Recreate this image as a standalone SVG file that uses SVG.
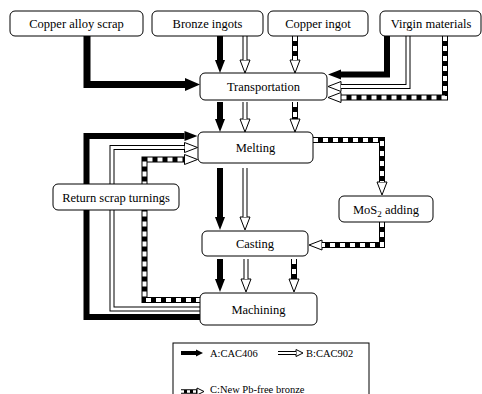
<svg xmlns="http://www.w3.org/2000/svg" width="482" height="394" viewBox="0 0 482 394">
<style>
.box{fill:#fff;stroke:#000;stroke-width:1}
text{font-family:"Liberation Serif","Times New Roman",serif;font-size:12.5px;text-anchor:middle;fill:#000}
.lg text{font-size:10.5px;text-anchor:start}
.a{fill:none;stroke:#000;stroke-width:6}
.bo{fill:none;stroke:#000;stroke-width:5}
.bi{fill:none;stroke:#fff;stroke-width:3}
.co{fill:none;stroke:#000;stroke-width:6}
.ci{fill:none;stroke:#fff;stroke-width:4;stroke-dasharray:5 5}
</style>
<defs>
<marker id="mA" markerUnits="userSpaceOnUse" viewBox="-1 -7 16 14" markerWidth="16" markerHeight="14" refX="0" refY="0" orient="auto"><path d="M0,-5 L13,0 L0,5 Z" fill="#000"/></marker>
<marker id="mAL" markerUnits="userSpaceOnUse" viewBox="-1 -8 18 16" markerWidth="18" markerHeight="16" refX="0" refY="0" orient="auto"><path d="M0,-6.5 L15,0 L0,6.5 Z" fill="#000"/></marker>
<marker id="mW" markerUnits="userSpaceOnUse" viewBox="-1 -7 16 14" markerWidth="16" markerHeight="14" refX="0" refY="0" orient="auto"><path d="M0,-5 L13,0 L0,5 Z" fill="#fff" stroke="#000" stroke-width="1"/></marker>
<marker id="mAs" markerUnits="userSpaceOnUse" viewBox="-1 -5 10 10" markerWidth="10" markerHeight="10" refX="0" refY="0" orient="auto"><path d="M0,-3.5 L7,0 L0,3.5 Z" fill="#000"/></marker>
<marker id="mWs" markerUnits="userSpaceOnUse" viewBox="-1 -5 10 10" markerWidth="10" markerHeight="10" refX="0" refY="0" orient="auto"><path d="M0,-3.5 L7,0 L0,3.5 Z" fill="#fff" stroke="#000" stroke-width="1"/></marker>
</defs>
<rect width="482" height="394" fill="#fff"/>
<g id="connectors">
<!-- A lines -->
<path class="a" style="stroke-width:7" d="M87,36 V84.5 H185" marker-end="url(#mAL)"/>
<path class="a" d="M220,36 V60" marker-end="url(#mA)"/>
<path class="a" d="M220,102 V119" marker-end="url(#mA)"/>
<path class="a" d="M220,168 V217" marker-end="url(#mA)"/>
<path class="a" d="M220,259 V279" marker-end="url(#mA)"/>
<path class="a" d="M387,36 V74.5 H341" marker-end="url(#mA)"/>
<path class="a" d="M201,317 H86.5 V136 H184.5" marker-end="url(#mA)"/>
<!-- B lines -->
<path class="bo" d="M245,36 V60" marker-end="url(#mW)"/><path class="bi" d="M245,36 V60"/>
<path class="bo" d="M245,102 V119" marker-end="url(#mW)"/><path class="bi" d="M245,102 V119"/>
<path class="bo" d="M245,168 V217" marker-end="url(#mW)"/><path class="bi" d="M245,168 V217"/>
<path class="bo" d="M246,259 V279" marker-end="url(#mW)"/><path class="bi" d="M246,259 V279"/>
<path class="bo" d="M408,36 V86.5 H341" marker-end="url(#mW)"/><path class="bi" d="M408,36 V86.5 H341"/>
<path class="bo" d="M201,309 H112 V147.5 H184.5" marker-end="url(#mW)"/><path class="bi" d="M201,309 H112 V147.5 H184.5"/>
<!-- C lines -->
<path class="co" d="M295,36 V60" marker-end="url(#mW)"/><path class="ci" d="M295,36 V60"/>
<path class="co" d="M295,102 V119" marker-end="url(#mW)"/><path class="ci" d="M295,102 V119"/>
<path class="co" d="M313,140 H382 V182" marker-end="url(#mW)"/><path class="ci" d="M313,140 H382 V182"/>
<path class="co" d="M382,222 V245 H322" marker-end="url(#mW)"/><path class="ci" d="M382,222 V245 H322"/>
<path class="co" d="M294,259 V279" marker-end="url(#mW)"/><path class="ci" d="M294,259 V279"/>
<path class="co" d="M445,36 V97.5 H341" marker-end="url(#mW)"/><path class="ci" d="M445,36 V97.5 H341"/>
<path class="co" d="M201,300 H144.5 V159.5 H184.5" marker-end="url(#mW)"/><path class="ci" d="M201,300 H144.5 V159.5 H184.5"/>
</g>
<g id="copper-alloy-scrap"><rect class="box" x="10" y="11" width="133" height="25" rx="5"/><text x="76.5" y="28">Copper alloy scrap</text></g>
<g id="bronze-ingots"><rect class="box" x="152" y="11" width="111" height="25" rx="5"/><text x="207.5" y="28">Bronze ingots</text></g>
<g id="copper-ingot"><rect class="box" x="268" y="11" width="100" height="25" rx="5"/><text x="318" y="28">Copper ingot</text></g>
<g id="virgin-materials"><rect class="box" x="380" y="11" width="101" height="25" rx="5"/><text x="431" y="28">Virgin materials</text></g>
<g id="transportation"><rect class="box" x="200" y="73" width="127" height="27" rx="5"/><text x="263.5" y="91">Transportation</text></g>
<g id="melting"><rect class="box" x="198" y="132" width="115" height="31" rx="5"/><text x="255.5" y="152">Melting</text></g>
<g id="mos2-adding"><rect class="box" x="339" y="196" width="94" height="26" rx="5"/><text x="386" y="213.5">MoS<tspan font-size="9" dy="3">2</tspan><tspan dy="-3"> adding</tspan></text></g>
<g id="return-scrap-turnings"><rect class="box" x="53" y="184" width="126" height="26" rx="5"/><text x="116" y="201.5">Return scrap turnings</text></g>
<g id="casting"><rect class="box" x="202" y="231" width="106" height="25" rx="5"/><text x="255" y="248">Casting</text></g>
<g id="machining"><rect class="box" x="200" y="293" width="117" height="32" rx="5"/><text x="258.5" y="313.5">Machining</text></g>
<g id="legend" class="lg">
<rect x="173" y="343" width="196" height="70" fill="#fff" stroke="#000" stroke-width="1"/>
<path d="M181,353 H196" fill="none" stroke="#000" stroke-width="4" marker-end="url(#mAs)"/>
<text x="210" y="357">A:CAC406</text>
<path d="M278,353 H296" fill="none" stroke="#000" stroke-width="4" marker-end="url(#mWs)"/>
<path d="M278,353 H296" fill="none" stroke="#fff" stroke-width="2"/>
<text x="306" y="357">B:CAC902</text>
<path d="M181,391.5 H197" fill="none" stroke="#000" stroke-width="4.5" marker-end="url(#mWs)"/>
<path d="M181,391.5 H197" fill="none" stroke="#fff" stroke-width="2.5" stroke-dasharray="3 3"/>
<text x="210" y="393">C:New Pb-free bronze</text>
</g>
</svg>
